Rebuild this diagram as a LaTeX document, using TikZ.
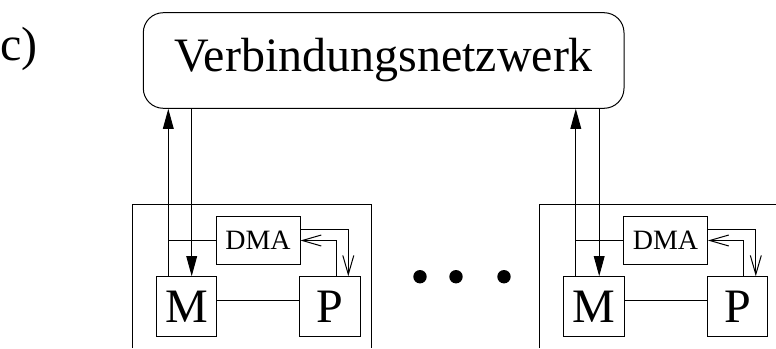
\documentclass[tikz,border=0pt]{standalone}
\usepackage{fontspec}
\setmainfont{Liberation Serif}
\usetikzlibrary{arrows.meta}

\begin{document}
\begin{tikzpicture}[x=1pt, y=-1pt, line width=1pt,
    bigfont/.style={font=\fontsize{48}{48}\selectfont},
    unitbox/.style={draw, inner sep=0pt, minimum width=60.5pt, minimum height=60pt, bigfont},
    dmabox/.style={draw, inner sep=0pt, minimum width=84pt, minimum height=47.6pt, font=\fontsize{28}{28}\selectfont},
    busarrow/.style={-{Triangle[length=20pt,width=10.7pt]}},
    dmaarrow/.style={-{Straight Barb[length=19pt,width=11pt]}}]
    \useasboundingbox (0,0) rectangle (776,348);
    \clip (0,0) rectangle (776,348);

    % Label and network
    \node[anchor=base west, inner sep=0pt, bigfont] (lbl) at (0,60) {c)};
    \node[draw, rounded corners=20pt, minimum width=480.7pt, minimum height=95.6pt, inner sep=0pt, bigfont] (net) at (383.65,60.5) {Verbindungsnetzwerk};

    % Two processor nodes
    \foreach \ox/\nm in {0/a, 407.5/b} {
        \draw (132.3+\ox,348) -- (132.3+\ox,204.7) -- (371.7+\ox,204.7) -- (371.7+\ox,348); % frame
        \node[unitbox] (M\nm) at (186.35+\ox,306.7) {M};
        \node[unitbox] (P\nm) at (330+\ox,306.7) {P};
        \node[dmabox] (D\nm) at (258+\ox,240.5) {DMA};
        \coordinate (up\nm) at (168.3+\ox,0);
        \coordinate (dn\nm) at (191.7+\ox,0);
        \draw[busarrow] (M\nm.north -| up\nm) -- (net.south -| up\nm); % to network
        \draw[busarrow] (net.south -| dn\nm) -- (M\nm.north -| dn\nm); % from network
        \draw (D\nm.west) -- (D\nm.west -| up\nm);
        \draw ([yshift=6pt]M\nm.east) -- ([yshift=6pt]P\nm.west);
        \draw[dmaarrow] ([yshift=11.2pt]D\nm.east) -| ([xshift=18.3pt]P\nm.north);
        \draw[dmaarrow] ([xshift=6pt]P\nm.north) |- (D\nm.east);
    }

    % Dots
    \foreach \dx in {420,456,504}
        \fill (\dx,276.7) circle (6.7pt);
\end{tikzpicture}
\end{document}
